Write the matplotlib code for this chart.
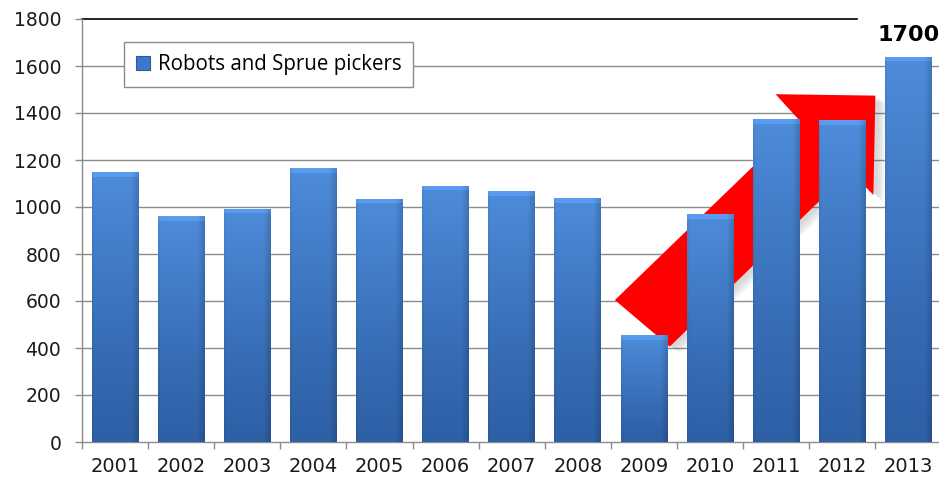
import numpy as np
import matplotlib
matplotlib.use('Agg')
import matplotlib.pyplot as plt
from matplotlib.patches import Polygon, Patch

# ---- data ----
years = ['2001', '2002', '2003', '2004', '2005', '2006', '2007',
         '2008', '2009', '2010', '2011', '2012', '2013']
values = [1148, 960, 992, 1165, 1035, 1090, 1068, 1038, 455, 970, 1373, 1370, 1640]
series_name = 'Robots and Sprue pickers'
highlight_label = '1700'
yticks = [0, 200, 400, 600, 800, 1000, 1200, 1400, 1600, 1800]

# decorative trend arrow (category index, value units)
arrow_x = [7.56, 10.36, 9.99, 11.50, 11.47, 11.12, 8.39]
arrow_y = [604, 1366, 1480, 1474, 1051, 1153, 406]

W, H = 939, 482
fig = plt.figure(figsize=(W / 100, H / 100), dpi=100)
ax = fig.add_axes([82 / W, (H - 442) / H, (941.5 - 82) / W, (442 - 19) / H])
ax.set_xlim(-0.5, 12.5)
ax.set_ylim(0, 1800)

grid_c = '#8c8c8c'
for v in yticks[1:-1]:
    ax.axhline(v, color=grid_c, lw=1, zorder=0)
ax.axhline(1800, xmin=0, xmax=(857 - 82) / (941.5 - 82), color='black', lw=1.2,
           zorder=1, clip_on=False)

# arrow with soft shadow
pts = np.column_stack([arrow_x, arrow_y])
for k, a in enumerate([0.05, 0.05, 0.06, 0.07]):
    off = np.array([0.06 + 0.03 * k, -10 - 6 * k])
    ax.add_patch(Polygon(pts + off, closed=True, facecolor='#505050', alpha=a,
                         edgecolor='none', zorder=1))
ax.add_patch(Polygon(pts, closed=True, facecolor='#ff0000', edgecolor='none', zorder=2))

# gradient bars
px_per_unit = 423 / 1800
bw = 0.71
top_c = np.array([78, 140, 218]) / 255
bot_c = np.array([46, 96, 166]) / 255
ncol = 48
xs = np.linspace(0, 1, ncol)
hprof = 1.0 - 0.16 * np.clip((np.abs(xs - 0.45) - 0.40) / 0.15, 0, 1)
bars = ax.bar(range(len(values)), values, width=bw, color='#3d78c8', edgecolor='none', zorder=3)
for b, v in zip(bars, values):
    nrow = max(int(v * px_per_unit), 2)
    t = np.linspace(0, 1, nrow)[:, None]  # 0 bottom, 1 top
    col = bot_c[None, None, :] + (top_c - bot_c)[None, None, :] * t[:, :, None] ** 1.2
    img = col * hprof[None, :, None]
    bev = 5
    img[-bev:, :, :] = np.clip(img[-bev:, :, :] * 1.08 + 0.02, 0, 1)
    img = np.clip(img, 0, 1)
    x0 = b.get_x()
    im = ax.imshow(img, extent=(x0, x0 + bw, 0, v), origin='lower', aspect='auto',
                   zorder=3, interpolation='bilinear')
    im.set_clip_path(b)

ax.set_xlim(-0.5, 12.5)
ax.set_ylim(0, 1800)

# value label
ax.text(12, 1690, highlight_label, ha='center', va='bottom', fontsize=16,
        fontweight='bold', family='DejaVu Sans', color='black', zorder=5, clip_on=False)

# axes styling
for s in ['top', 'right']:
    ax.spines[s].set_visible(False)
for s in ['left', 'bottom']:
    ax.spines[s].set_color(grid_c)
    ax.spines[s].set_linewidth(1)
ax.set_yticks(yticks)
ax.set_yticklabels([str(v) for v in yticks], family='DejaVu Sans', fontsize=13.5, color='#1a1a1a')
ax.tick_params(axis='y', length=5, width=1, color=grid_c, pad=10)
ax.set_xticks(range(len(years)))
ax.set_xticklabels(years, family='DejaVu Sans', fontsize=14, color='#1a1a1a')
ax.set_xticks(np.arange(-0.5, 12.6, 1), minor=True)
ax.tick_params(axis='x', which='major', length=0, pad=11)
ax.tick_params(axis='x', which='minor', length=5, width=1, color=grid_c)

leg = ax.legend(handles=[Patch(facecolor='#3d78c8', edgecolor='#2c5a9a', lw=0.8)],
                labels=[series_name], loc='upper left',
                bbox_to_anchor=(124 / W, 1 - 42 / H), bbox_transform=fig.transFigure,
                borderaxespad=0, frameon=True, fancybox=False, shadow=False,
                prop={'family': 'Open Sans', 'size': 14.8}, handlelength=0.7,
                handleheight=0.7, handletextpad=0.35, borderpad=0.58)
leg.get_frame().set_edgecolor(grid_c)
leg.get_frame().set_linewidth(1)
leg.get_frame().set_alpha(1)
leg.set_zorder(6)

fig.savefig('out.png', dpi=100)
